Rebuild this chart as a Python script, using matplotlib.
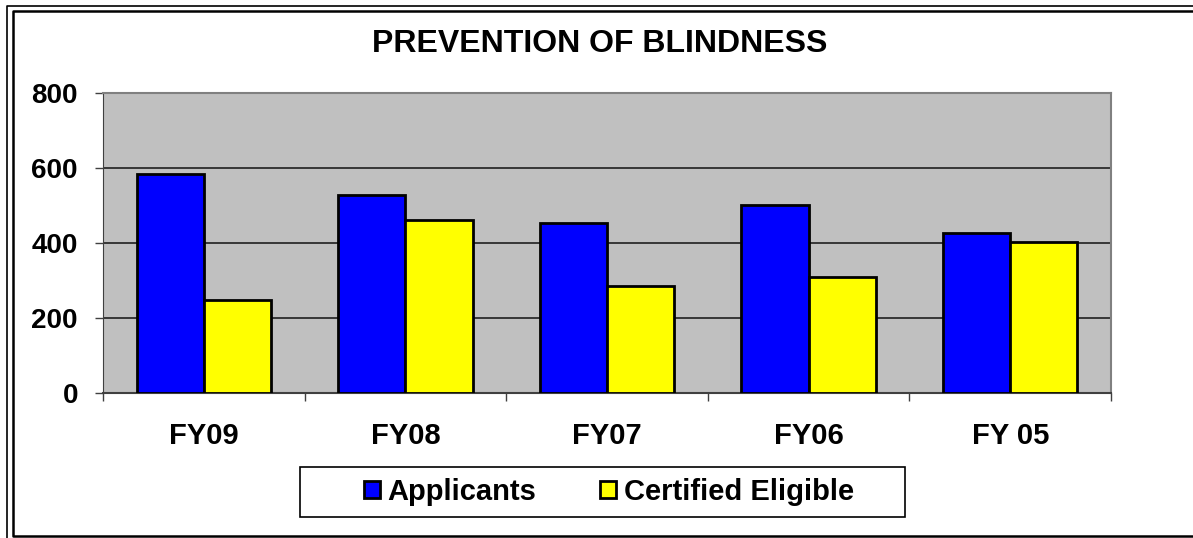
import numpy as np
import matplotlib
matplotlib.use('Agg')
import matplotlib.pyplot as plt
from matplotlib.lines import Line2D
from matplotlib.patches import Rectangle

# data
years = ['FY09', 'FY08', 'FY07', 'FY06', 'FY 05']
applicants = [585, 528, 453, 501, 427]
certified = [249, 461, 286, 310, 402]

W, H = 1193, 538
plt.rcParams['font.family'] = ['Liberation Sans', 'DejaVu Sans']
plt.rcParams['font.weight'] = 'bold'

fig = plt.figure(figsize=(W / 100, H / 100), dpi=100)
fig.patch.set_facecolor('white')


def fx(px):
    return px / W


def fy(py):
    return 1 - py / H


# plot area in pixels: x 103..1111, y 93..393
ax = fig.add_axes([fx(103), fy(393), fx(1111) - fx(103), fy(93) - fy(393)])
ax.set_facecolor('#c0c0c0')

x = np.arange(len(years))
w = 1 / 3
ax.bar(x - w / 2, applicants, w, color='#0000ff', edgecolor='black', linewidth=2,
       label='Applicants', zorder=3)
ax.bar(x + w / 2, certified, w, color='#ffff00', edgecolor='black', linewidth=2,
       label='Certified Eligible', zorder=3)

ax.set_xlim(-0.5, len(years) - 0.5)
ax.set_ylim(0, 800)
ax.set_yticks([0, 200, 400, 600, 800])
ax.yaxis.grid(True, color='#202020', linewidth=1.2, zorder=1)
ax.set_axisbelow(True)

ax.set_xticks(x)
ax.set_xticklabels(years)
ax.set_xticks(np.arange(-0.5, len(years)), minor=True)
ax.tick_params(axis='x', which='major', length=0, pad=21, labelsize=21)
ax.tick_params(axis='x', which='minor', length=6, width=1, color='#404040', direction='out')
ax.tick_params(axis='y', length=6, width=1, color='#404040', direction='out', pad=12, labelsize=20)
for lab in ax.get_xticklabels() + ax.get_yticklabels():
    lab.set_fontweight('bold')

ax.spines['left'].set_color('#404040')
ax.spines['bottom'].set_color('#404040')
ax.spines['bottom'].set_linewidth(1.5)
ax.spines['top'].set_color('#808080')
ax.spines['right'].set_color('#808080')
ax.spines['top'].set_linewidth(1.5)
ax.spines['right'].set_linewidth(1.5)

fig.text(fx(600), fy(52), 'PREVENTION OF BLINDNESS', ha='center', va='baseline',
         fontsize=23, fontweight='bold')

# legend, frame drawn separately
leg = fig.legend(loc='center', bbox_to_anchor=(fx(609), fy(492)), ncol=2, frameon=False,
                 fontsize=21, handlelength=0.55, handleheight=0.55, handletextpad=0.27,
                 columnspacing=2.2, borderpad=0)
for t in leg.get_texts():
    t.set_fontweight('bold')
fig.add_artist(Rectangle((fx(300), fy(517)), fx(905) - fx(300), fy(467) - fy(517),
                         transform=fig.transFigure, fill=False, edgecolor='black', linewidth=1.2))

# double frame round the chart
fig.add_artist(Line2D([fx(7), fx(7), fx(W + 5)], [fy(H + 5), fy(5.5), fy(5.5)],
                      transform=fig.transFigure, color='black', linewidth=1.2))
fig.add_artist(Line2D([fx(W + 5), fx(13), fx(13), fx(W + 5)],
                      [fy(535.8), fy(535.8), fy(11), fy(11)],
                      transform=fig.transFigure, color='black', linewidth=1.8))

fig.savefig('out.png', dpi=100)
